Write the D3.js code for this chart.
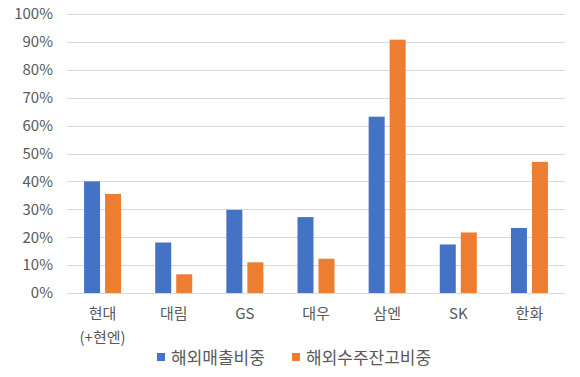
<!DOCTYPE html>
<html><head><meta charset="utf-8">
<script src="https://cdn.jsdelivr.net/npm/d3@7"></script>
<style>body{margin:0;background:#fff}svg{display:block}text{font-family:"Noto Sans CJK KR","Noto Sans",sans-serif;fill:#595959}</style>
</head><body><svg id="c" width="580" height="377"></svg>
<script>
const categories = ["현대\n(+현엔)", "대림", "GS", "대우", "삼엔", "SK", "한화"];
const seriesNames = ["해외매출비중", "해외수주잔고비중"];
const overseasSales = [40.0, 18.1, 29.8, 27.2, 63.2, 17.4, 23.3];
const overseasBacklog = [35.5, 6.7, 11.0, 12.3, 90.8, 21.7, 47.0];
const yTicks = [0, 10, 20, 30, 40, 50, 60, 70, 80, 90, 100];
const colors = ["#4472c4", "#ed7d31"];

const svg = d3.select("#c");
const m = {l: 67, r: 15, t: 14, b: 84};
const W = 580, H = 377;
const x = d3.scaleBand().domain(categories).range([m.l, W - m.r]).paddingInner(0).paddingOuter(0);
const y = d3.scaleLinear().domain([0, 100]).range([H - m.b, m.t]);
const series = [overseasSales, overseasBacklog];

// grid
svg.append("g").selectAll("line").data(yTicks).join("line")
  .attr("x1", m.l).attr("x2", W - m.r)
  .attr("y1", d => Math.round(y(d)) + 0.5).attr("y2", d => Math.round(y(d)) + 0.5)
  .attr("stroke", "#d9d9d9").attr("stroke-width", 1.2);

// y axis labels
const yAxis = d3.axisLeft(y).tickValues(yTicks).tickFormat(d => d + "%").tickSize(0).tickPadding(14);
const ga = svg.append("g").attr("transform", `translate(${m.l},0)`).call(yAxis);
ga.select(".domain").remove();
ga.selectAll("text").style("font-size", "15px").attr("fill", "#595959");

// bars
const bw = 16, gap = 5;
series.forEach((vals, si) => {
  svg.append("g").selectAll("rect").data(vals).join("rect")
    .attr("x", (d, i) => x(categories[i]) + x.bandwidth() / 2 + (si === 0 ? -gap / 2 - bw : gap / 2))
    .attr("width", bw)
    .attr("y", d => y(d))
    .attr("height", d => y(0) - y(d))
    .attr("fill", colors[si]);
});

// x labels
const xl = svg.append("g");
categories.forEach(c => {
  const lines = c.split("\n");
  const t = xl.append("text").attr("text-anchor", "middle")
    .attr("x", x(c) + x.bandwidth() / 2).attr("y", 319)
    .style("font-size", "15px");
  lines.forEach((ln, i) => t.append("tspan").attr("x", x(c) + x.bandwidth() / 2).attr("dy", i ? 24 : 0).text(ln));
});

// legend
const lg = svg.append("g");
const lx = [157, 292];
seriesNames.forEach((n, i) => {
  lg.append("rect").attr("x", lx[i]).attr("y", 353).attr("width", 8).attr("height", 8).attr("fill", colors[i]);
  lg.append("text").attr("x", lx[i] + 14).attr("y", 364).style("font-size", "17px").text(n);
});
</script></body></html>
